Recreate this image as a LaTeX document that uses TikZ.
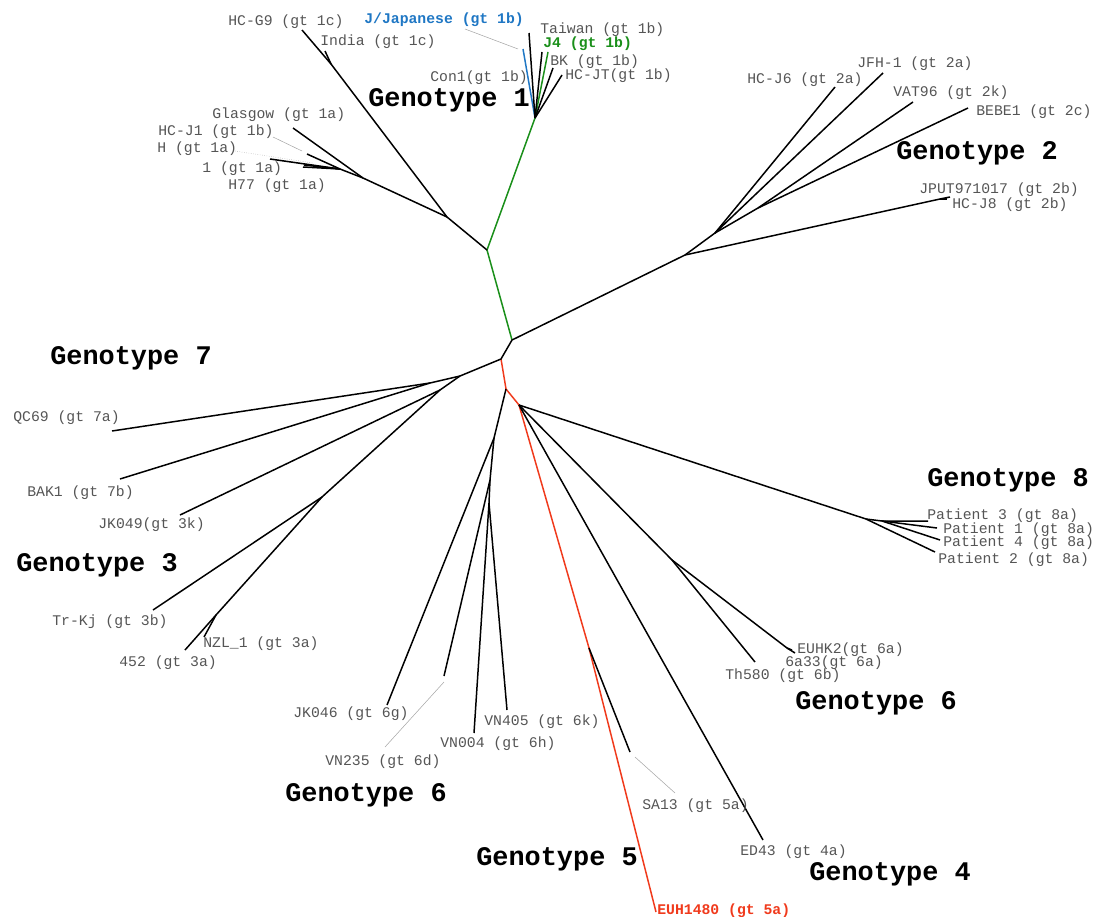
\documentclass[tikz,border=0pt]{standalone}
\usepackage{fontspec}
\setmonofont{Liberation Mono}
\definecolor{gtblue}{HTML}{1F77C4}
\definecolor{gtgreen}{HTML}{1A8F1A}
\definecolor{gtred}{HTML}{F03A1C}
\definecolor{labgray}{HTML}{555555}
\tikzset{
  leaf/.style={anchor=west, inner sep=0pt, font=\ttfamily\fontsize{8.4}{10}\selectfont, text=labgray},
  hilite/.style={leaf, font=\ttfamily\bfseries\fontsize{8.4}{10}\selectfont},
  gtype/.style={inner sep=0pt, font=\ttfamily\bfseries\fontsize{15.3}{18}\selectfont},
  branch/.style={line width=0.85pt},
  leader/.style={line width=0.3pt, black!35},
}
\begin{document}
\begin{tikzpicture}[x=0.02cm, y=-0.02cm]
        \useasboundingbox (0,0) rectangle (1094,916);
        % Centre of the tree
        \coordinate (c0) at (512,340);
        \coordinate (n1) at (501,359);
        \coordinate (n2) at (506,389);
        \coordinate (n3) at (519,405);
        % Genotype 1
        \coordinate (g1) at (487,250);
        \coordinate (a0) at (447,217);
        \coordinate (c1) at (331,64);
        \coordinate (tHCG9) at (302,30);
        \coordinate (tIndia) at (325,51);
        \coordinate (a1) at (363,178);
        \coordinate (tGlasgow) at (293,128);
        \coordinate (a2) at (340,169);
        \coordinate (tHCJ1) at (307,154);
        \coordinate (tH) at (270,159);
        \coordinate (tOne) at (303,167);
        \coordinate (tH77) at (304,165);
        \coordinate (b0) at (535,118);
        \coordinate (tJ4) at (548,52);
        \coordinate (tTaiwan) at (529,33);
        \coordinate (tJap) at (523,49);
        \coordinate (tCon1) at (542,52);
        \coordinate (tBK) at (553,68);
        \coordinate (tHCJT) at (562,75);
        % Genotype 2
        \coordinate (d0) at (685,255);
        \coordinate (d4) at (940,199);
        \coordinate (tJPUT) at (950,197);
        \coordinate (tHCJ8) at (947,199);
        \coordinate (d1) at (715,233);
        \coordinate (tHCJ6) at (835,87);
        \coordinate (tJFH) at (883,73);
        \coordinate (d3) at (758,208);
        \coordinate (tVAT) at (913,102);
        \coordinate (tBEBE) at (968,108);
        % Genotypes 7 and 3
        \coordinate (n7) at (460,376);
        \coordinate (n71) at (430,383);
        \coordinate (tQC69) at (112,431);
        \coordinate (tBAK1) at (120,479);
        \coordinate (n73) at (440,390);
        \coordinate (tJK049) at (180,515);
        \coordinate (n74) at (322,497);
        \coordinate (tTrKj) at (153,610);
        \coordinate (n75) at (216,615);
        \coordinate (t452) at (185,650);
        \coordinate (tNZL) at (204,637);
        % Genotype 6 (left)
        \coordinate (m1) at (494,438);
        \coordinate (tJK046) at (387,705);
        \coordinate (m2) at (490,480);
        \coordinate (tVN235) at (444,676);
        \coordinate (m3) at (489,503);
        \coordinate (tVN004) at (474,733);
        \coordinate (tVN405) at (507,710);
        % Genotype 8
        \coordinate (e8) at (866,519);
        \coordinate (e81) at (882,521);
        \coordinate (tP3) at (928,521);
        \coordinate (tP1) at (937,528);
        \coordinate (tP4) at (940,540);
        \coordinate (tP2) at (935,552);
        % Genotype 6 (right), 4 and 5
        \coordinate (f6) at (672,560);
        \coordinate (tTh580) at (755,662);
        \coordinate (f61) at (787,648);
        \coordinate (tEUHK2) at (795,653);
        \coordinate (t6a33) at (792,650);
        \coordinate (tED43) at (763,840);
        \coordinate (r5) at (589,648);
        \coordinate (tEUH) at (656,912);
        \coordinate (tSA13) at (630,752);

        % Coloured branches
        \draw[branch, gtgreen] (c0) -- (g1) -- (b0) -- (tJ4);
        \draw[branch, gtblue] (b0) -- (tJap);
        \draw[branch, gtred] (n1) -- (n2) -- (n3) -- (r5) -- (tEUH);
        % Black branches
        \draw[branch] (c0) -- (n1) -- (n7);
        \draw[branch] (g1) -- (a0) -- (c1) -- (tHCG9);
        \draw[branch] (c1) -- (tIndia);
        \draw[branch] (a0) -- (a1) -- (tGlasgow);
        \draw[branch] (a1) -- (a2) -- (tHCJ1);
        \draw[branch] (a2) -- (tH);
        \draw[branch] (a2) -- (tOne);
        \draw[branch] (a2) -- (tH77);
        \draw[branch] (b0) -- (tTaiwan);
        \draw[branch] (b0) -- (tCon1);
        \draw[branch] (b0) -- (tBK);
        \draw[branch] (b0) -- (tHCJT);
        \draw[branch] (c0) -- (d0) -- (d4) -- (tJPUT);
        \draw[branch] (d4) -- (tHCJ8);
        \draw[branch] (d0) -- (d1) -- (tHCJ6);
        \draw[branch] (d1) -- (tJFH);
        \draw[branch] (d1) -- (d3) -- (tVAT);
        \draw[branch] (d3) -- (tBEBE);
        \draw[branch] (n7) -- (n71) -- (tQC69);
        \draw[branch] (n71) -- (tBAK1);
        \draw[branch] (n7) -- (n73) -- (tJK049);
        \draw[branch] (n73) -- (n74) -- (tTrKj);
        \draw[branch] (n74) -- (n75) -- (t452);
        \draw[branch] (n75) -- (tNZL);
        \draw[branch] (n2) -- (m1) -- (tJK046);
        \draw[branch] (m1) -- (m2) -- (tVN235);
        \draw[branch] (m2) -- (m3) -- (tVN004);
        \draw[branch] (m3) -- (tVN405);
        \draw[branch] (n3) -- (e8) -- (tP2);
        \draw[branch] (e8) -- (e81) -- (tP3);
        \draw[branch] (e81) -- (tP1);
        \draw[branch] (e81) -- (tP4);
        \draw[branch] (n3) -- (f6) -- (tTh580);
        \draw[branch] (f6) -- (f61) -- (tEUHK2);
        \draw[branch] (f61) -- (t6a33);
        \draw[branch] (n3) -- (tED43);
        \draw[branch] (r5) -- (tSA13);

        % Leaf labels
        \node[leaf] (HCG9) at (228,22) {HC-G9 (gt 1c)};
        \node[leaf] (India) at (320,42) {India (gt 1c)};
        \node[hilite, text=gtblue] (Jap) at (364,20) {J/Japanese (gt 1b)};
        \node[leaf] (Taiwan) at (540,30) {Taiwan (gt 1b)};
        \node[hilite, text=gtgreen] (J4) at (543,44) {J4 (gt 1b)};
        \node[leaf] (BK) at (550,62) {BK (gt 1b)};
        \node[leaf] (HCJT) at (565,76) {HC-JT(gt 1b)};
        \node[leaf] (Con1) at (430,78) {Con1(gt 1b)};
        \node[leaf] (Glasgow) at (212,115) {Glasgow (gt 1a)};
        \node[leaf] (HCJ1) at (158,132) {HC-J1 (gt 1b)};
        \node[leaf] (H) at (157,149) {H (gt 1a)};
        \node[leaf] (One) at (202,169) {1 (gt 1a)};
        \node[leaf] (H77) at (228,186) {H77 (gt 1a)};
        \node[leaf] (HCJ6) at (747,80) {HC-J6 (gt 2a)};
        \node[leaf] (JFH) at (857,64) {JFH-1 (gt 2a)};
        \node[leaf] (VAT) at (893,93) {VAT96 (gt 2k)};
        \node[leaf] (BEBE) at (976,112) {BEBE1 (gt 2c)};
        \node[leaf] (JPUT) at (919,190) {JPUT971017 (gt 2b)};
        \node[leaf] (HCJ8) at (952,205) {HC-J8 (gt 2b)};
        \node[leaf] (QC69) at (13,418) {QC69 (gt 7a)};
        \node[leaf] (BAK1) at (27,493) {BAK1 (gt 7b)};
        \node[leaf] (JK049) at (98,525) {JK049(gt 3k)};
        \node[leaf] (TrKj) at (52,622) {Tr-Kj (gt 3b)};
        \node[leaf] (NZL) at (203,644) {NZL\_1 (gt 3a)};
        \node[leaf] (L452) at (119,663) {452 (gt 3a)};
        \node[leaf] (P3) at (927,516) {Patient 3 (gt 8a)};
        \node[leaf] (P1) at (943,530) {Patient 1 (gt 8a)};
        \node[leaf] (P4) at (943,543) {Patient 4 (gt 8a)};
        \node[leaf] (P2) at (938,560) {Patient 2 (gt 8a)};
        \node[leaf] (EUHK2) at (797,650) {EUHK2(gt 6a)};
        \node[leaf] (SixA) at (785,663) {6a33(gt 6a)};
        \node[leaf] (Th580) at (725,676) {Th580 (gt 6b)};
        \node[leaf] (JK046) at (293,714) {JK046 (gt 6g)};
        \node[leaf] (VN405) at (484,722) {VN405 (gt 6k)};
        \node[leaf] (VN004) at (440,744) {VN004 (gt 6h)};
        \node[leaf] (VN235) at (325,762) {VN235 (gt 6d)};
        \node[leaf] (SA13) at (642,806) {SA13 (gt 5a)};
        \node[leaf] (ED43) at (740,852) {ED43 (gt 4a)};
        \node[hilite, text=gtred] (EUH) at (657,911) {EUH1480 (gt 5a)};

        % Leader lines
        \coordinate (lJap) at (465,29);
        \coordinate (eJap) at (518,49);
        \coordinate (lHCJ1) at (273,137);
        \coordinate (eHCJ1) at (302,151);
        \coordinate (lH) at (235,151);
        \coordinate (eH) at (313,163);
        \coordinate (lVN235) at (385,747);
        \coordinate (eVN235) at (444,682);
        \coordinate (lSA13) at (675,793);
        \coordinate (eSA13) at (635,757);
        \draw[leader] (lJap) -- (eJap);
        \draw[leader] (lHCJ1) -- (eHCJ1);
        \draw[leader, densely dotted] (lH) -- (eH);
        \draw[leader] (lVN235) -- (eVN235);
        \draw[leader] (lSA13) -- (eSA13);

        % Genotype labels
        \node[gtype] (G1) at (449,100) {Genotype 1};
        \node[gtype] (G2) at (977,153) {Genotype 2};
        \node[gtype] (G7) at (131,358) {Genotype 7};
        \node[gtype] (G3) at (97,565) {Genotype 3};
        \node[gtype] (G8) at (1008,480) {Genotype 8};
        \node[gtype] (G6r) at (876,703) {Genotype 6};
        \node[gtype] (G6l) at (366,795) {Genotype 6};
        \node[gtype] (G5) at (557,859) {Genotype 5};
        \node[gtype] (G4) at (890,874) {Genotype 4};
    \end{tikzpicture}
\end{document}
